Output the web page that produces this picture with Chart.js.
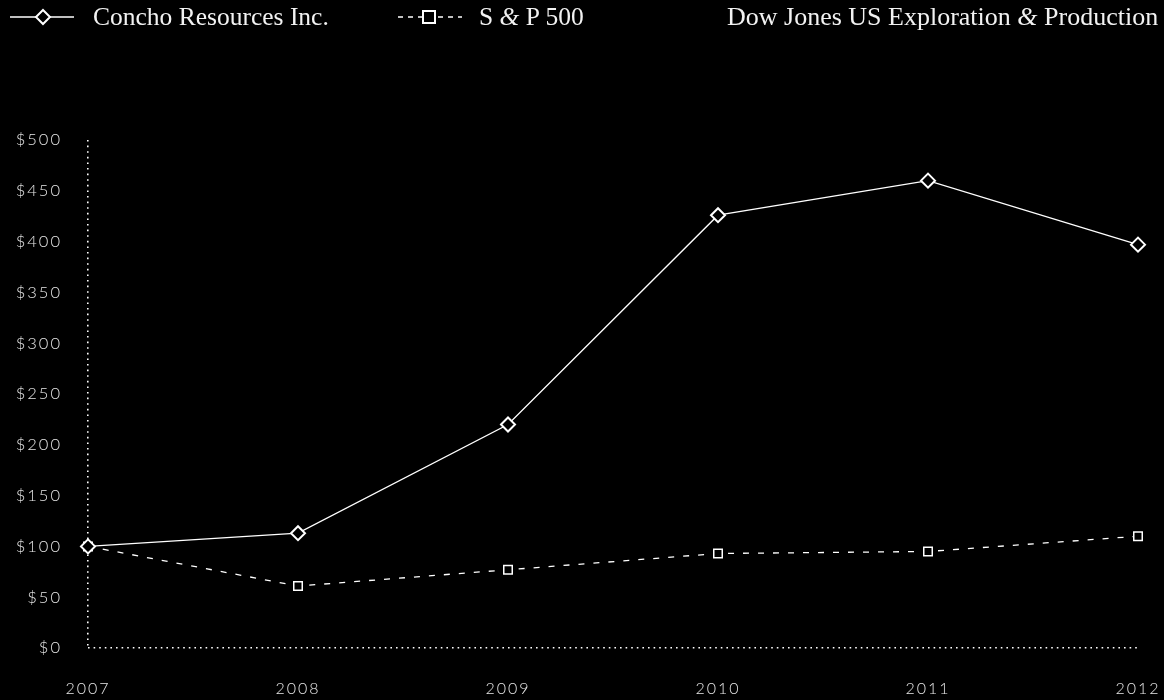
<!DOCTYPE html>
<html>
<head>
<meta charset="utf-8">
<script src="https://cdn.jsdelivr.net/npm/chart.js@4/dist/chart.umd.min.js"></script>
<style>
  html, body { margin: 0; padding: 0; background: #000; }
  #wrap { position: relative; width: 1164px; height: 700px; background: #000; }
  #chart { position: absolute; left: 0; top: 0; }
  .legend { position: absolute; top: 0; height: 34px; line-height: 34px; color: #f2f2f2;
            font-family: "Liberation Serif", "DejaVu Serif", serif; font-size: 25.5px; white-space: nowrap; }
  .amp { font-style: italic; }
</style>
</head>
<body>
<div id="wrap">
  <canvas id="chart" width="1164" height="700"></canvas>
  <svg style="position:absolute;left:10px;top:7px" width="64" height="20">
    <line x1="0" y1="10" x2="64" y2="10" stroke="#fff" stroke-width="1.3"/>
    <polygon points="33,3 40,10 33,17 26,10" fill="#000" stroke="#fff" stroke-width="2"/>
  </svg>
  <div class="legend" style="left:93px">Concho Resources Inc.</div>
  <svg style="position:absolute;left:398px;top:7px" width="64" height="20">
    <line x1="0" y1="10" x2="64" y2="10" stroke="#fff" stroke-width="1.3" stroke-dasharray="5,5"/>
    <rect x="25" y="4" width="12" height="12" fill="#000" stroke="#fff" stroke-width="2"/>
  </svg>
  <div class="legend" style="left:479px">S <span class="amp">&amp;</span> P 500</div>
  <div class="legend" style="left:727px;font-size:26px">Dow Jones US Exploration <span class="amp">&amp;</span> Production</div>
</div>
<script>
// Datos del gráfico
const years = ['2007', '2008', '2009', '2010', '2011', '2012'];
const conchoValues = [100, 113, 220, 426, 460, 397];
const spValues = [100, 61, 77, 93, 95, 110];

// Espaciado de letras para las etiquetas de los ejes
const letterSpacingPlugin = {
  id: 'letterSpacing',
  beforeLayout(chart) { chart.ctx.letterSpacing = '2px'; },
  beforeDraw(chart) { chart.ctx.letterSpacing = '2px'; }
};

// Solo la primera línea de la cuadrícula se dibuja (ejes punteados)
const firstLineOnly = c => c.index === 0 ? '#ffffff' : 'rgba(0,0,0,0)';

const ctx = document.getElementById('chart').getContext('2d');
new Chart(ctx, {
  type: 'line',
  data: {
    labels: years,
    datasets: [{
      label: 'Concho Resources Inc.',
      data: conchoValues,
      borderColor: '#ffffff',
      borderWidth: 1.3,
      pointStyle: 'rectRot',
      pointRadius: 7,
      pointBorderWidth: 2,
      pointBackgroundColor: '#000000',
      pointBorderColor: '#ffffff',
      tension: 0
    }, {
      label: 'S & P 500',
      data: spValues,
      borderColor: '#ffffff',
      borderWidth: 1.3,
      borderDash: [6, 9],
      pointStyle: 'rect',
      pointRadius: 6,
      pointBorderWidth: 1.5,
      pointBackgroundColor: '#000000',
      pointBorderColor: '#ffffff',
      tension: 0
    }]
  },
  options: {
    responsive: false,
    animation: false,
    layout: { padding: { top: 140, right: 26, left: 0, bottom: 0 } },
    plugins: { legend: { display: false }, tooltip: { enabled: false } },
    scales: {
      x: {
        offset: false,
        grid: { display: true, drawTicks: false, color: firstLineOnly, lineWidth: 1.6 },
        border: { display: false, dash: [1.6, 4] },
        ticks: { color: '#e6e6e6', font: { family: 'Lato', size: 16, weight: 300 }, padding: 31, maxRotation: 0 },
        afterFit(scale) {
          scale.height = 52;
          scale.paddingRight = 0;
          scale.paddingLeft = 0;
        }
      },
      y: {
        min: 0,
        max: 500,
        grid: { display: true, drawTicks: false, color: firstLineOnly, lineWidth: 1.6 },
        border: { display: false, dash: [1.6, 4] },
        ticks: {
          stepSize: 50,
          color: '#e6e6e6',
          font: { family: 'Lato', size: 16.5, weight: 300 },
          padding: 26,
          callback: v => '$' + v
        },
        afterFit(scale) { scale.width = 88; }
      }
    }
  },
  plugins: [letterSpacingPlugin]
});
</script>
</body>
</html>
